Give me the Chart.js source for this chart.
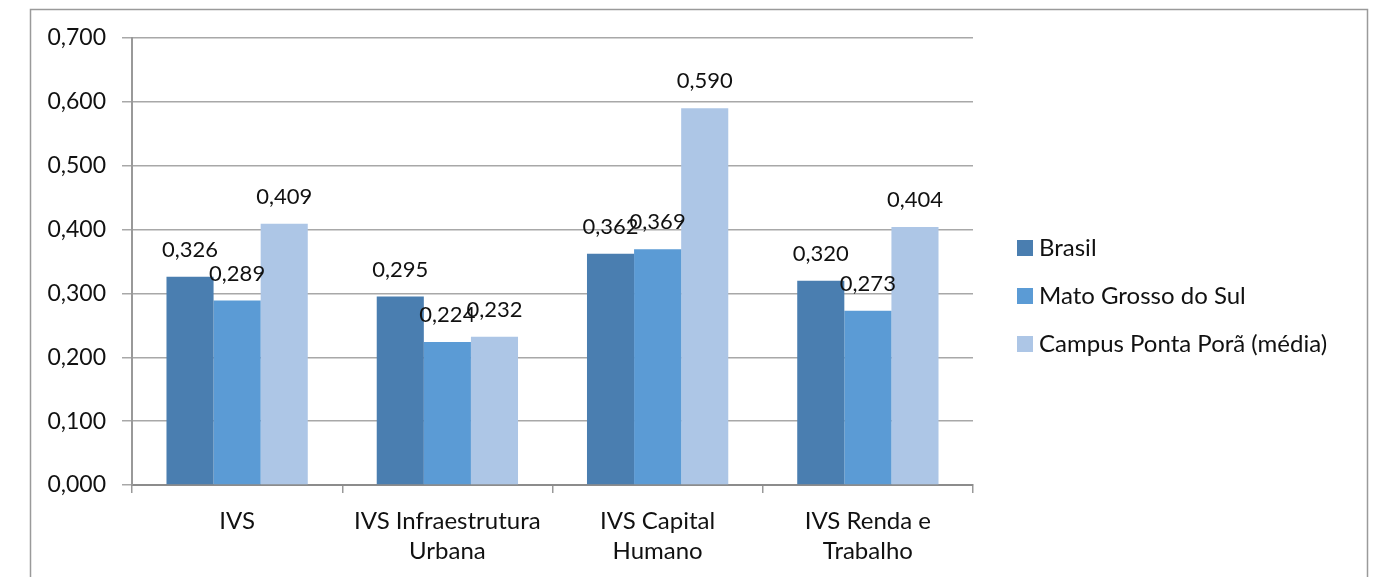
<!DOCTYPE html>
<html>
<head>
<meta charset="utf-8">
<script src="https://cdn.jsdelivr.net/npm/chart.js@4"></script>
<style>
html,body{margin:0;padding:0;background:#fff;}
#wrap{position:absolute;left:0;top:0;width:1373px;height:577px;}
</style>
</head>
<body>
<div id="wrap"><canvas id="c" width="1373" height="577"></canvas></div>
<script>
const categories = [["IVS"], ["IVS Infraestrutura", "Urbana"], ["IVS Capital", "Humano"], ["IVS Renda e", "Trabalho"]];
const seriesNames = ["Brasil", "Mato Grosso do Sul", "Campus Ponta Porã (média)"];
const brasil = [0.326, 0.295, 0.362, 0.320];
const matoGrosso = [0.289, 0.224, 0.369, 0.273];
const campus = [0.409, 0.232, 0.590, 0.404];
const yTicks = [0, 0.1, 0.2, 0.3, 0.4, 0.5, 0.6, 0.7];
const colors = ["#4A7EB0", "#5B9BD5", "#ADC6E6"];

const FONT = "Lato, 'Open Sans', sans-serif";
const fmt = v => v.toFixed(3).replace('.', ',');

const framePlugin = {
  id: 'frame',
  beforeDraw(chart) {
    const ctx = chart.ctx;
    ctx.save();
    ctx.fillStyle = '#fff';
    ctx.fillRect(0, 0, chart.width, chart.height);
    ctx.strokeStyle = '#9a9a9a';
    ctx.lineWidth = 1.5;
    ctx.beginPath();
    ctx.moveTo(30.5, 600);
    ctx.lineTo(30.5, 9.5);
    ctx.lineTo(1367.5, 9.5);
    ctx.lineTo(1367.5, 600);
    ctx.stroke();
    ctx.restore();
  }
};

const labelPlugin = {
  id: 'vlabels',
  afterDatasetsDraw(chart) {
    const ctx = chart.ctx;
    ctx.save();
    ctx.font = "22px " + FONT;
    ctx.fillStyle = '#111';
    ctx.textAlign = 'center';
    ctx.textBaseline = 'middle';
    chart.data.datasets.forEach((ds, i) => {
      const meta = chart.getDatasetMeta(i);
      meta.data.forEach((bar, j) => {
        ctx.fillText(fmt(ds.data[j]), bar.x, bar.y - 27);
      });
    });
    ctx.restore();
  }
};

const legendPlugin = {
  id: 'customLegend',
  afterDraw(chart) {
    const ctx = chart.ctx;
    ctx.save();
    ctx.font = "24px " + FONT;
    ctx.textBaseline = 'middle';
    ctx.textAlign = 'left';
    chart.data.datasets.forEach((ds, i) => {
      const cy = 248 + i * 48;
      ctx.fillStyle = ds.backgroundColor;
      ctx.fillRect(1017, cy - 8, 16, 16);
      ctx.fillStyle = '#111';
      ctx.fillText(ds.label, 1039, cy);
    });
    ctx.restore();
  }
};

new Chart(document.getElementById('c'), {
  type: 'bar',
  data: {
    labels: categories,
    datasets: [
      { label: seriesNames[0], data: brasil, backgroundColor: colors[0] },
      { label: seriesNames[1], data: matoGrosso, backgroundColor: colors[1] },
      { label: seriesNames[2], data: campus, backgroundColor: colors[2] }
    ]
  },
  options: {
    responsive: false,
    animation: false,
    devicePixelRatio: 1,
    layout: { padding: { top: 38, right: 400, left: 0, bottom: 0 } },
    datasets: { bar: { categoryPercentage: 0.672, barPercentage: 1.0 } },
    plugins: { legend: { display: false }, tooltip: { enabled: false } },
    scales: {
      x: {
        grid: { display: true, drawOnChartArea: false, offset: true, tickLength: 8, color: '#999', lineWidth: 1.5 },
        border: { display: true, color: '#8c8c8c', width: 2 },
        ticks: { font: { family: FONT, size: 24, lineHeight: 1.25 }, color: '#111', padding: 13, maxRotation: 0, autoSkip: false },
        afterFit(scale) { scale.height = 92; }
      },
      y: {
        min: 0, max: 0.7,
        afterBuildTicks(scale) { scale.ticks = yTicks.map(v => ({ value: v })); },
        grid: { color: '#a8a8a8', lineWidth: 1.5, tickLength: 10 },
        border: { display: true, color: '#999', width: 2 },
        ticks: { font: { family: FONT, size: 23 }, color: '#111', padding: 16, callback: v => fmt(v) },
        afterFit(scale) { scale.width = 132; }
      }
    }
  },
  plugins: [framePlugin, labelPlugin, legendPlugin]
});
</script>
</body>
</html>
